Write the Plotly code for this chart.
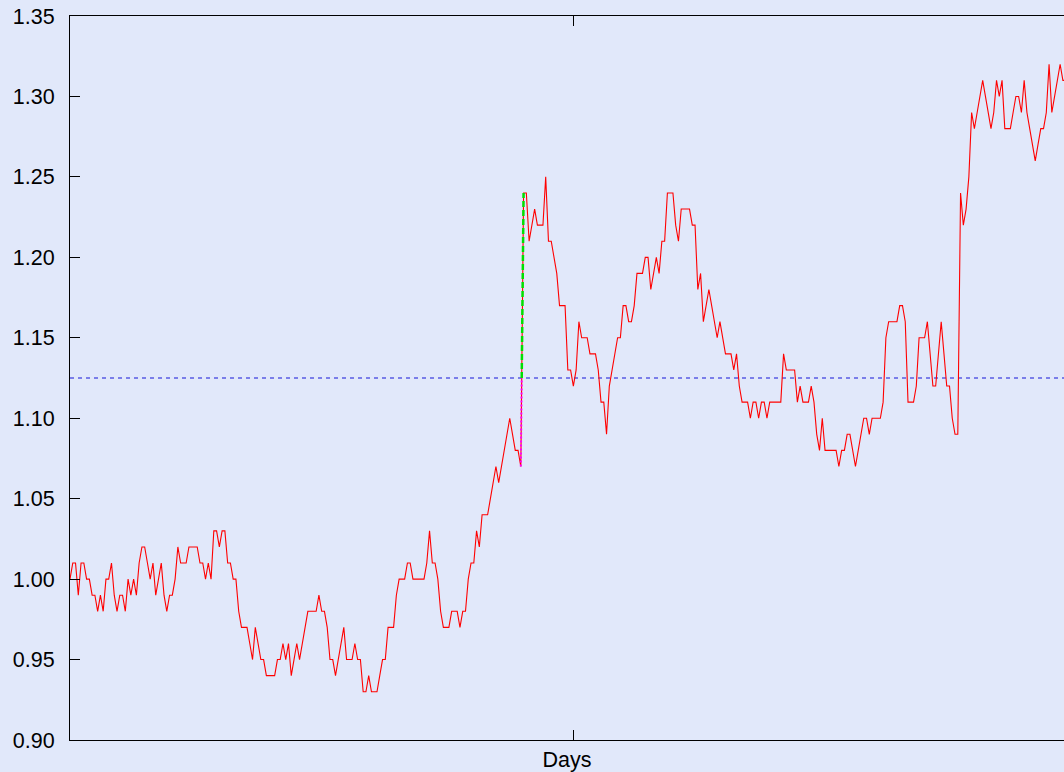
import plotly.graph_objects as go

# Daily closing rate, one value per day (day 0 .. 360)
rate = [
    1.00, 1.01, 1.01, 0.99, 1.01, 1.01, 1.00, 1.00, 0.99, 0.99,
    0.98, 0.99, 0.98, 1.00, 1.00, 1.01, 0.99, 0.98, 0.99, 0.99,
    0.98, 1.00, 0.99, 1.00, 0.99, 1.01, 1.02, 1.02, 1.01, 1.00,
    1.01, 0.99, 1.00, 1.01, 0.99, 0.98, 0.99, 0.99, 1.00, 1.02,
    1.01, 1.01, 1.01, 1.02, 1.02, 1.02, 1.02, 1.01, 1.01, 1.00,
    1.01, 1.00, 1.03, 1.03, 1.02, 1.03, 1.03, 1.01, 1.01, 1.00,
    1.00, 0.98, 0.97, 0.97, 0.97, 0.96, 0.95, 0.97, 0.96, 0.95,
    0.95, 0.94, 0.94, 0.94, 0.94, 0.95, 0.95, 0.96, 0.95, 0.96,
    0.94, 0.95, 0.96, 0.95, 0.96, 0.97, 0.98, 0.98, 0.98, 0.98,
    0.99, 0.98, 0.98, 0.97, 0.95, 0.95, 0.94, 0.95, 0.96, 0.97,
    0.95, 0.95, 0.95, 0.96, 0.95, 0.95, 0.93, 0.93, 0.94, 0.93,
    0.93, 0.93, 0.94, 0.95, 0.95, 0.97, 0.97, 0.97, 0.99, 1.00,
    1.00, 1.00, 1.01, 1.01, 1.00, 1.00, 1.00, 1.00, 1.00, 1.01,
    1.03, 1.01, 1.01, 1.00, 0.98, 0.97, 0.97, 0.97, 0.98, 0.98,
    0.98, 0.97, 0.98, 0.98, 1.00, 1.01, 1.01, 1.03, 1.02, 1.04,
    1.04, 1.04, 1.05, 1.06, 1.07, 1.06, 1.07, 1.08, 1.09, 1.10,
    1.09, 1.08, 1.08, 1.07, 1.24, 1.24, 1.21, 1.22, 1.23, 1.22,
    1.22, 1.22, 1.25, 1.21, 1.21, 1.20, 1.19, 1.17, 1.17, 1.17,
    1.13, 1.13, 1.12, 1.13, 1.16, 1.15, 1.15, 1.15, 1.14, 1.14,
    1.14, 1.13, 1.11, 1.11, 1.09, 1.12, 1.13, 1.14, 1.15, 1.15,
    1.17, 1.17, 1.16, 1.16, 1.17, 1.19, 1.19, 1.19, 1.20, 1.20,
    1.18, 1.19, 1.20, 1.19, 1.21, 1.21, 1.24, 1.24, 1.24, 1.22,
    1.21, 1.23, 1.23, 1.23, 1.23, 1.22, 1.22, 1.18, 1.19, 1.16,
    1.17, 1.18, 1.17, 1.16, 1.15, 1.16, 1.15, 1.14, 1.14, 1.14,
    1.13, 1.14, 1.12, 1.11, 1.11, 1.11, 1.10, 1.11, 1.11, 1.10,
    1.11, 1.11, 1.10, 1.11, 1.11, 1.11, 1.11, 1.11, 1.14, 1.13,
    1.13, 1.13, 1.13, 1.11, 1.12, 1.11, 1.11, 1.11, 1.12, 1.11,
    1.09, 1.08, 1.10, 1.08, 1.08, 1.08, 1.08, 1.08, 1.07, 1.08,
    1.08, 1.09, 1.09, 1.08, 1.07, 1.08, 1.09, 1.10, 1.10, 1.09,
    1.10, 1.10, 1.10, 1.10, 1.11, 1.15, 1.16, 1.16, 1.16, 1.16,
    1.17, 1.17, 1.16, 1.11, 1.11, 1.11, 1.12, 1.15, 1.15, 1.15,
    1.16, 1.14, 1.12, 1.12, 1.14, 1.16, 1.14, 1.12, 1.12, 1.10,
    1.09, 1.09, 1.24, 1.22, 1.23, 1.25, 1.29, 1.28, 1.29, 1.30,
    1.31, 1.30, 1.29, 1.28, 1.29, 1.31, 1.30, 1.31, 1.28, 1.28,
    1.28, 1.29, 1.30, 1.30, 1.29, 1.31, 1.29, 1.28, 1.27, 1.26,
    1.27, 1.28, 1.28, 1.29, 1.32, 1.29, 1.30, 1.31, 1.32, 1.31,
    1.31,
]
days = list(range(len(rate)))

y_ticks = [0.90, 0.95, 1.00, 1.05, 1.10, 1.15, 1.20, 1.25, 1.30, 1.35]
x_ticks = [182]
x_title = "Days"

# Middle of the traded range
mid = (min(rate) + max(rate)) / 2

# Largest single-day jump and where it crosses the middle level
steps = [rate[i + 1] - rate[i] for i in range(len(rate) - 1)]
k = max(range(len(steps)), key=lambda i: steps[i])
x_cross = days[k] + (mid - rate[k]) / (rate[k + 1] - rate[k]) * (days[k + 1] - days[k])

BG = "#E1E8FA"
FONT = dict(family="Liberation Sans, Arial, sans-serif", size=21.5, color="black")

fig = go.Figure()

fig.add_trace(go.Scatter(
    x=[days[0], days[-1]], y=[mid, mid], mode="lines",
    line=dict(color="#1414D8", width=1, dash="4px,4px"),
    hoverinfo="skip",
))
fig.add_trace(go.Scatter(
    x=days, y=rate, mode="lines",
    line=dict(color="#FF0000", width=1.1),
))
fig.add_trace(go.Scatter(
    x=[days[k], x_cross], y=[rate[k], mid], mode="lines",
    line=dict(color="#FF00FF", width=2, dash="2px,2px"),
))
fig.add_trace(go.Scatter(
    x=[x_cross, days[k + 1]], y=[mid, rate[k + 1]], mode="lines",
    line=dict(color="#00E000", width=2.5, dash="6px,3px"),
))

fig.update_layout(
    width=1064, height=772,
    margin=dict(l=70, r=0, t=16, b=32),
    paper_bgcolor=BG, plot_bgcolor=BG,
    showlegend=False,
    font=FONT,
    xaxis=dict(
        range=[0, 359.4],
        tickvals=x_ticks, ticktext=[""],
        ticks="inside", ticklen=10, tickcolor="black", tickwidth=1,
        showline=True, linecolor="black", linewidth=1, mirror="ticks",
        showgrid=False, zeroline=False,
        title=dict(text=x_title, font=FONT, standoff=9),
    ),
    yaxis=dict(
        range=[0.90, 1.35],
        tickvals=y_ticks, tickformat=".2f",
        ticks="inside", ticklen=10, tickcolor="black", tickwidth=1,
        showline=True, linecolor="black", linewidth=1, mirror=False,
        showgrid=False, zeroline=False,
        ticklabelstandoff=10,
    ),
)

fig.write_html("out.html")
